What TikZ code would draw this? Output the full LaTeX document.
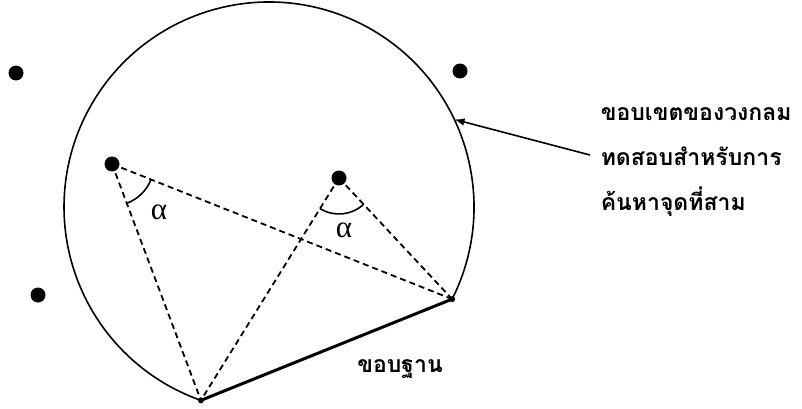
\documentclass[tikz,border=0pt]{standalone}
\usepackage{fontspec}
\newfontfamily\thaifont[Script=Thai]{Loma}
\newfontfamily\greekfont{Liberation Serif}
\usetikzlibrary{positioning,arrows.meta,calc,angles,quotes}

\begin{document}
\begin{tikzpicture}[
  x=1pt, y=1pt,
  dot/.style={circle, fill, inner sep=0pt, minimum size=15pt},
  vertex/.style={circle, fill, inner sep=0pt, minimum size=6pt},
  thai/.style={font=\thaifont\bfseries\fontsize{23}{45}\selectfont, inner sep=0pt},
  test/.style={dash pattern=on 6pt off 4pt, line width=1.8pt},
  every pic quotes/.style={font=\greekfont\fontsize{31}{31}\selectfont},
  >=Latex, every path/.style={line width=1.6pt}]
\useasboundingbox (0,0) rectangle (802,408);
\coordinate (o) at (269,201);
\coordinate (a) at ($(o)+(250.6:205)$);
\coordinate (b) at ($(o)+(-26.7:205)$);
\coordinate (t) at ($(o)+(25.3:205)$);
% points
\node[dot] (p1) at (112,244) {};
\node[dot] (p2) at (339,230) {};
\node[dot] (q1) at (16,335) {};
\node[dot] (q2) at (460,337) {};
\node[dot] (q3) at (38,113) {};
\node[vertex] (va) at (a) {};
\node[vertex] (vb) at (b) {};
% circle through the base
\draw (b) arc[start angle=-26.7, end angle=250.6, radius=205];
\draw[line width=3pt] (va.center) -- (vb.center);
\draw[test] (p1.center) -- (va.center);
\draw[test] (p1.center) -- (vb.center);
\draw[test] (p2.center) -- (va.center);
\draw[test] (p2.center) -- (vb.center);
\pic[draw, angle radius=42pt, angle eccentricity=1.6, "α"] {angle=a--p1--b};
\pic[draw, angle radius=36pt, angle eccentricity=1.45, "α"] {angle=a--p2--b};
% labels
\node[thai, align=left, anchor=west] (lb) at (600,246) {ขอบเขตของวงกลม\\ทดสอบสำหรับการ\\ค้นหาจุดที่สาม};
\coordinate (tail) at (590,253);
\draw[->] (tail) -- (t);
\node[thai] (base) at (400,39) {ขอบฐาน};
\end{tikzpicture}
\end{document}
